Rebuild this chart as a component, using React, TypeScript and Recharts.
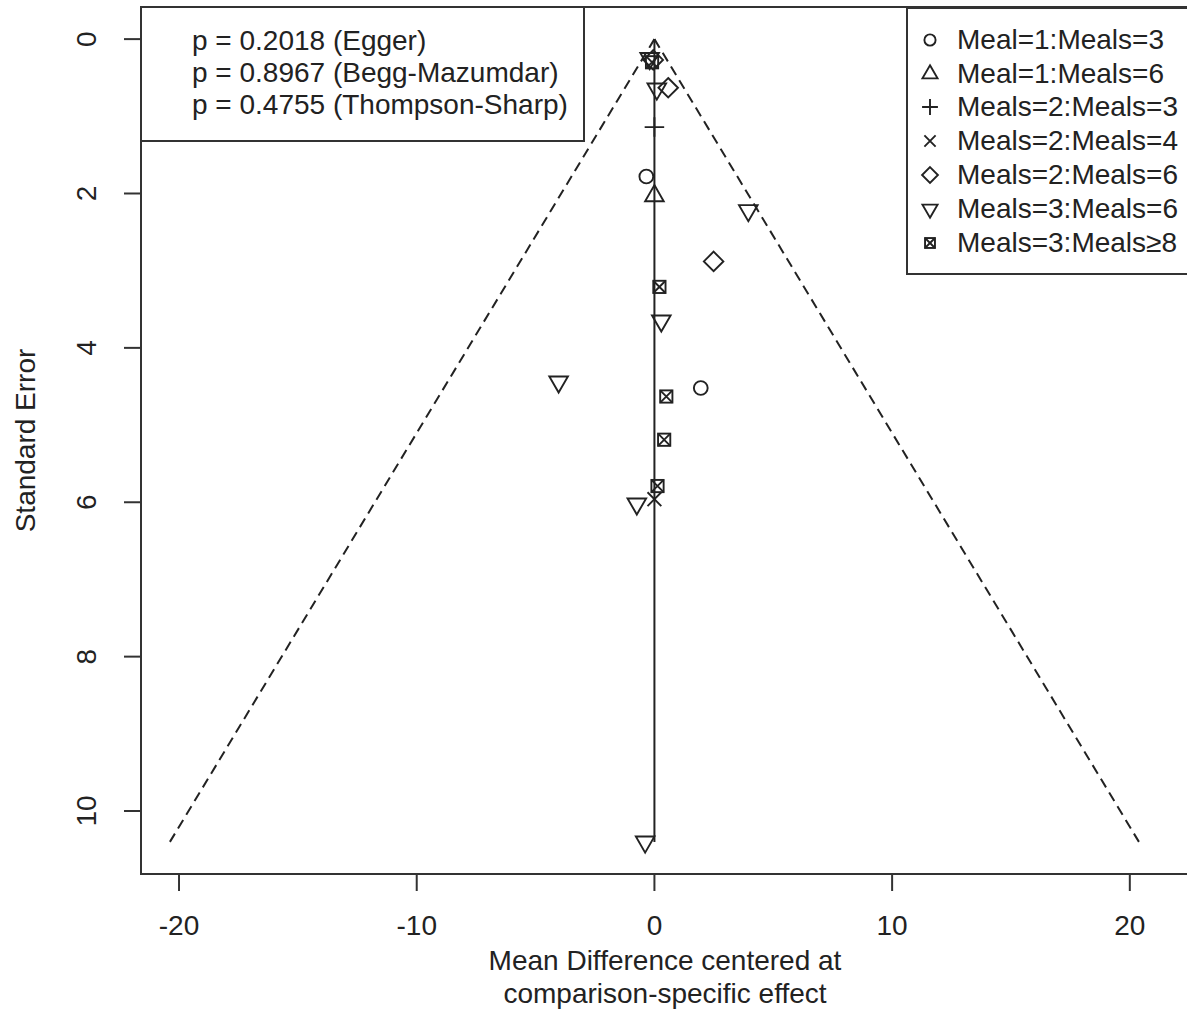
import { ScatterChart, Scatter, XAxis, YAxis, ReferenceLine, ReferenceArea, Legend, Label } from 'recharts';

const FONT = '"Liberation Sans", Arial, Helvetica, sans-serif';
const INK = '#222';
const FRAME = '#333';
const TEXT_SIZE = 28;

const xTicks = [-20, -10, 0, 10, 20];
const yTicks = [0, 2, 4, 6, 8, 10];
const xDomain: [number, number] = [-21.6, 22.49];
const yDomain: [number, number] = [-0.416, 10.816];

// funnel drawn to the largest standard error, 95% limits
const maxSe = 10.4;
const z95 = 1.96;

const pLines = ['p = 0.2018 (Egger)', 'p = 0.8967 (Begg-Mazumdar)', 'p = 0.4755 (Thompson-Sharp)'];

// x = mean difference centred at comparison effect, y = standard error
const meal1v3 = [
  { x: -0.34, y: 1.78 },
  { x: 1.95, y: 4.52 },
];
const meal1v6 = [{ x: 0, y: 2.03 }];
const meals2v3 = [{ x: 0, y: 1.14 }];
const meals2v4 = [{ x: 0, y: 5.96 }];
const meals2v6 = [
  { x: -0.05, y: 0.27 },
  { x: 0.58, y: 0.63 },
  { x: 2.49, y: 2.88 },
];
const meals3v6 = [
  { x: -0.2, y: 0.25 },
  { x: 0.1, y: 0.645 },
  { x: 3.95, y: 2.22 },
  { x: 0.29, y: 3.65 },
  { x: -4.03, y: 4.44 },
  { x: -0.74, y: 6.02 },
  { x: -0.39, y: 10.4 },
];
const meals3v8 = [
  { x: -0.1, y: 0.3 },
  { x: 0.21, y: 3.21 },
  { x: 0.5, y: 4.63 },
  { x: 0.41, y: 5.19 },
  { x: 0.13, y: 5.79 },
];

type Kind = 'circle' | 'triUp' | 'plus' | 'cross' | 'diamond' | 'triDown' | 'boxCross';

const groups: { name: string; kind: Kind; data: { x: number; y: number }[] }[] = [
  { name: 'Meal=1:Meals=3', kind: 'circle', data: meal1v3 },
  { name: 'Meal=1:Meals=6', kind: 'triUp', data: meal1v6 },
  { name: 'Meals=2:Meals=3', kind: 'plus', data: meals2v3 },
  { name: 'Meals=2:Meals=4', kind: 'cross', data: meals2v4 },
  { name: 'Meals=2:Meals=6', kind: 'diamond', data: meals2v6 },
  { name: 'Meals=3:Meals=6', kind: 'triDown', data: meals3v6 },
  { name: 'Meals=3:Meals\u22658', kind: 'boxCross', data: meals3v8 },
];

// base-R style plotting symbols (pch 1..7)
function Marker({ kind, cx, cy, r }: { kind: Kind; cx: number; cy: number; r: number }) {
  const s = { fill: 'none', stroke: INK, strokeWidth: 1.9 };
  switch (kind) {
    case 'circle':
      return <circle cx={cx} cy={cy} r={r} {...s} />;
    case 'triUp': {
      const a = 1.555 * r, h = 1.347 * r, b = 0.778 * r;
      return <polygon points={`${cx},${cy - a} ${cx + h},${cy + b} ${cx - h},${cy + b}`} {...s} />;
    }
    case 'triDown': {
      const a = 1.555 * r, h = 1.347 * r, b = 0.778 * r;
      return <polygon points={`${cx},${cy + a} ${cx + h},${cy - b} ${cx - h},${cy - b}`} {...s} />;
    }
    case 'plus': {
      const a = 1.414 * r;
      return <path d={`M${cx - a},${cy}H${cx + a}M${cx},${cy - a}V${cy + a}`} {...s} />;
    }
    case 'cross':
      return <path d={`M${cx - r},${cy - r}L${cx + r},${cy + r}M${cx - r},${cy + r}L${cx + r},${cy - r}`} {...s} />;
    case 'diamond': {
      const a = 1.414 * r;
      return <polygon points={`${cx},${cy - a} ${cx + a},${cy} ${cx},${cy + a} ${cx - a},${cy}`} {...s} />;
    }
    case 'boxCross': {
      const a = 0.886 * r;
      return (
        <g {...s}>
          <rect x={cx - a} y={cy - a} width={2 * a} height={2 * a} />
          <path d={`M${cx - a},${cy - a}L${cx + a},${cy + a}M${cx - a},${cy + a}L${cx + a},${cy - a}`} />
        </g>
      );
    }
  }
}

const XTick = (props: any) => (
  <text x={props.x} y={props.y + 34} textAnchor="middle" dominantBaseline="central" fill={INK} fontSize={TEXT_SIZE}>
    {props.payload.value}
  </text>
);

const YTick = (props: any) => {
  const x = props.x - 37;
  const y = props.y;
  return (
    <text x={x} y={y} transform={`rotate(-90, ${x}, ${y})`} textAnchor="middle" dominantBaseline="central" fill={INK} fontSize={TEXT_SIZE}>
      {props.payload.value}
    </text>
  );
};

const XTitle = (props: any) => {
  const vb = props.viewBox;
  const cx = vb.x + vb.width / 2;
  return (
    <text textAnchor="middle" dominantBaseline="central" fill={INK} fontSize={TEXT_SIZE}>
      <tspan x={cx} y={vb.y + 86}>Mean Difference centered at</tspan>
      <tspan x={cx} y={vb.y + 119}>comparison-specific effect</tspan>
    </text>
  );
};

const YTitle = (props: any) => {
  const vb = props.viewBox;
  const x = 25;
  const y = vb.y + vb.height / 2;
  return (
    <text x={x} y={y} transform={`rotate(-90, ${x}, ${y})`} textAnchor="middle" dominantBaseline="central" fill={INK} fontSize={TEXT_SIZE}>
      Standard Error
    </text>
  );
};

const LegendBox = () => (
  <div
    style={{
      width: '100%',
      height: '100%',
      boxSizing: 'border-box',
      border: `2px solid ${FRAME}`,
      borderRight: 'none',
      paddingTop: 14,
      fontFamily: FONT,
      fontSize: TEXT_SIZE,
      color: INK,
      background: 'white',
    }}
  >
    {groups.map((g) => (
      <div key={g.name} style={{ display: 'flex', alignItems: 'center', height: 33.8, whiteSpace: 'nowrap' }}>
        <svg width={24} height={24} style={{ marginLeft: 10, marginRight: 15, flex: 'none' }}>
          <Marker kind={g.kind} cx={12} cy={12} r={5.6} />
        </svg>
        <span>{g.name}</span>
      </div>
    ))}
  </div>
);

export default function App() {
  return (
    <div
      style={{
        position: 'absolute',
        left: 0,
        top: 0,
        width: 1187,
        height: 1014,
        overflow: 'hidden',
        background: 'white',
        fontFamily: FONT,
      }}
    >
      <ScatterChart width={1192} height={1014} margin={{ top: 7, right: 3, bottom: 0, left: 0 }}>
        <XAxis
          type="number"
          dataKey="x"
          domain={xDomain}
          ticks={xTicks}
          interval={0}
          allowDataOverflow
          height={140}
          tickSize={17}
          tickMargin={0}
          axisLine={false}
          tickLine={{ stroke: FRAME, strokeWidth: 2 }}
          tick={XTick}
        >
          <Label content={XTitle} />
        </XAxis>
        <YAxis
          type="number"
          dataKey="y"
          reversed
          domain={yDomain}
          ticks={yTicks}
          interval={0}
          allowDataOverflow
          width={141}
          tickSize={17}
          tickMargin={0}
          axisLine={false}
          tickLine={{ stroke: FRAME, strokeWidth: 2 }}
          tick={YTick}
        >
          <Label content={YTitle} />
        </YAxis>
        <ReferenceArea
          x1={xDomain[0]}
          x2={xDomain[1]}
          y1={yDomain[0]}
          y2={yDomain[1]}
          fill="none"
          fillOpacity={0}
          stroke={FRAME}
          strokeWidth={2}
        />
        <ReferenceLine
          segment={[{ x: 0, y: 0 }, { x: -z95 * maxSe, y: maxSe }]}
          stroke={INK}
          strokeWidth={2}
          strokeDasharray="10 6"
        />
        <ReferenceLine
          segment={[{ x: 0, y: 0 }, { x: z95 * maxSe, y: maxSe }]}
          stroke={INK}
          strokeWidth={2}
          strokeDasharray="10 6"
        />
        <ReferenceLine segment={[{ x: 0, y: 0 }, { x: 0, y: maxSe }]} stroke={INK} strokeWidth={2} />
        {groups.map((g) => (
          <Scatter
            key={g.name}
            name={g.name}
            data={g.data}
            isAnimationActive={false}
            shape={(p: any) => <Marker kind={g.kind} cx={p.cx} cy={p.cy} r={6.9} />}
          />
        ))}
        <Legend
          layout="vertical"
          align="center"
          verticalAlign="middle"
          wrapperStyle={{ left: 906, top: 7, width: 300, height: 268, right: 'auto', bottom: 'auto' }}
          content={() => <LegendBox />}
        />
      </ScatterChart>
      <div
        style={{
          position: 'absolute',
          left: 141,
          top: 7,
          width: 444,
          height: 135,
          boxSizing: 'border-box',
          border: `2px solid ${FRAME}`,
          borderLeft: 'none',
          borderTop: 'none',
          paddingTop: 18,
          paddingLeft: 51,
          fontSize: TEXT_SIZE,
          lineHeight: '32px',
          color: INK,
        }}
      >
        {pLines.map((t) => (
          <div key={t} style={{ whiteSpace: 'nowrap' }}>
            {t}
          </div>
        ))}
      </div>
    </div>
  );
}
